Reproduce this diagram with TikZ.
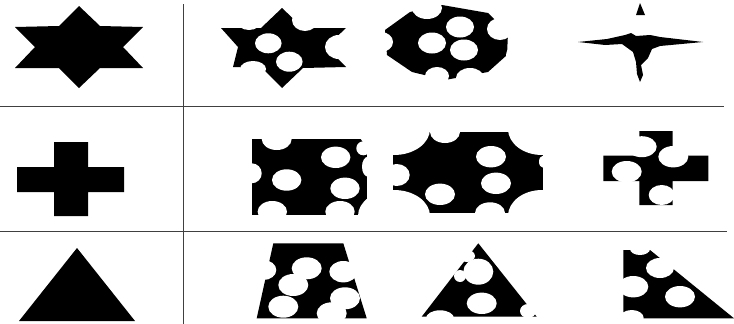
\documentclass[tikz,border=0pt]{standalone}
\begin{document}
\begin{tikzpicture}[x=1pt,y=-1pt,
  shapefill/.style={fill=black,draw=none},
  hole/.style={fill=white,draw=none},
  gridline/.style={draw=black!75,line width=0.9pt}]
\useasboundingbox (0,0) rectangle (734,324);
% grid lines
\coordinate (h1a) at (0,106); \coordinate (h1b) at (724,106);
\coordinate (h2a) at (0,231); \coordinate (h2b) at (727,231);
\coordinate (v1a) at (183,4); \coordinate (v1b) at (183,324);
% ---------- left column ----------
\fill[shapefill] (79,6) -- (100,26) -- (143,27) -- (123,47) -- (143,68) -- (100,68) -- (79,88) -- (59,68) -- (15,68) -- (35,47) -- (15,27) -- (59,26) -- cycle;
\fill[shapefill] (54,142) -- (88,142) -- (88,167) -- (124,167) -- (124,192) -- (88,192) -- (88,216) -- (54,216) -- (54,192) -- (17,192) -- (17,167) -- (54,167) -- cycle;
\fill[shapefill] (77,248) -- (135,321) -- (19,321) -- cycle;
% ---------- row 1 ----------
% r1c1
\fill[shapefill] (282,8) -- (303,28) -- (346,28) -- (326,47) -- (346,67) -- (303,68) -- (282,88) -- (262,68) -- (233,67) -- (238,47) -- (221,28) -- (261,28) -- cycle;
\fill[hole] (249,20) ellipse (13 and 10);
\fill[hole] (305,20) ellipse (13 and 11);
\fill[hole] (339,47) ellipse (14 and 12);
\fill[hole] (253,69) ellipse (13 and 8);
\fill[hole] (268.3,43.3) ellipse (13.3 and 10);
\fill[hole] (289.3,61.7) ellipse (13.3 and 10);
% r1c2
\fill[shapefill] (410,12) -- (442,5) -- (488,13) -- (508,33) -- (507,55) -- (488,72) -- (445,80) -- (412,72) -- (387,55) -- (385,30) -- cycle;
\fill[hole] (427,8) ellipse (15 and 11);
\fill[hole] (500,29) ellipse (13 and 11);
\fill[hole] (381,42) ellipse (12 and 10);
\fill[hole] (437,76) ellipse (12 and 9);
\fill[hole] (470,78) ellipse (14 and 10);
\fill[hole] (514,55) ellipse (8 and 8);
\fill[hole] (460,27) ellipse (14 and 10.5);
\fill[hole] (432,43) ellipse (14 and 10.5);
\fill[hole] (464,50) ellipse (14 and 10.5);
% r1c3
\fill[shapefill] (636,15) -- (645,15) -- (640,3) -- cycle;
\fill[shapefill] (578,42) -- (607,39) -- (625,35) -- (631,33) -- (636,36) -- (650,35) -- (660,37) -- (703,42) -- (660,46) -- (652,49) -- (648,58) -- (641,65) -- (643,75) -- (640,82) -- (637,74) -- (636,62) -- (633,52) -- (622,44) -- (605,45) -- cycle;
% ---------- row 2 ----------
% r2c1
\fill[shapefill] (252,139) rectangle (367,215);
\fill[hole] (276.7,139) ellipse (15 and 11);
\fill[hole] (251.7,173.3) ellipse (10 and 10);
\fill[hole] (363.3,148.3) ellipse (7 and 7);
\fill[hole] (368,166.7) ellipse (6 and 10);
\fill[hole] (335.7,157.3) ellipse (14.7 and 10.7);
\fill[hole] (286.7,180) ellipse (14.7 and 10.7);
\fill[hole] (345,188.3) ellipse (14.7 and 10.7);
\fill[hole] (272.3,211.7) ellipse (14.7 and 10.7);
\fill[hole] (340,211.7) ellipse (14.7 and 10.7);
% r2c2
\fill[shapefill] (393,132) rectangle (543,213);
\fill[hole] (394,129) ellipse (36 and 26);
\fill[hole] (542,129) ellipse (34 and 26);
\fill[hole] (394,216) ellipse (36 and 26);
\fill[hole] (542,216) ellipse (34 and 26);
\fill[hole] (445,132) ellipse (15 and 11);
\fill[hole] (396.7,175) ellipse (13 and 11);
\fill[hole] (543,161.7) ellipse (4 and 6);
\fill[hole] (491,156.7) ellipse (15 and 10.7);
\fill[hole] (496,183.3) ellipse (15 and 10.7);
\fill[hole] (440,194.3) ellipse (15 and 10.7);
\fill[hole] (490,213) ellipse (15 and 10.7);
% r2c3
\fill[shapefill] (639.3,131) -- (672.7,131) -- (672.7,155.7) -- (708.3,155.7) -- (708.3,181) -- (672.7,181) -- (672.7,205) -- (639.3,205) -- (639.3,181) -- (603.3,181) -- (603.3,155.7) -- (639.3,155.7) -- cycle;
\fill[hole] (641.7,146.7) ellipse (15 and 10.5);
\fill[hole] (673.3,156.7) ellipse (15 and 10.7);
\fill[hole] (626.7,171.7) ellipse (15 and 10.7);
\fill[hole] (661.7,195) ellipse (13 and 10);
% ---------- row 3 ----------
% r3c1
\fill[shapefill] (273.3,243.3) -- (343.3,243.3) -- (366.7,318.3) -- (256.7,318.3) -- cycle;
\fill[hole] (263.3,270) ellipse (13 and 10);
\fill[hole] (343.3,271.7) ellipse (14 and 10.7);
\fill[hole] (306.7,268.3) ellipse (15 and 11);
\fill[hole] (293.3,285) ellipse (15 and 11);
\fill[hole] (283.3,306.7) ellipse (15 and 11);
\fill[hole] (345,298.3) ellipse (15 and 11);
\fill[hole] (331.7,313.3) ellipse (15 and 11);
% r3c2
\fill[shapefill] (478.3,243.3) -- (536.7,316.7) -- (421.7,316.7) -- cycle;
\fill[hole] (478.3,271.7) ellipse (15 and 13);
\fill[hole] (467,256) ellipse (8 and 6);
\fill[hole] (460,276) ellipse (6 and 6);
\fill[hole] (481.7,303.3) ellipse (15 and 10.7);
\fill[hole] (440,318.3) ellipse (14 and 8);
\fill[hole] (528,311) ellipse (8 and 7);
% r3c3
\fill[shapefill] (623.3,250) -- (650,250) -- (734,318.3) -- (623.3,318.3) -- cycle;
\fill[hole] (640,249) ellipse (10 and 6);
\fill[hole] (660,268) ellipse (14 and 10);
\fill[hole] (633.3,286.7) ellipse (15 and 10.7);
\fill[hole] (680,296.7) ellipse (15 and 10.7);
\fill[hole] (631.7,318) ellipse (12 and 8);
% grid lines on top
\draw[gridline] (h1a) -- (h1b);
\draw[gridline] (h2a) -- (h2b);
\draw[gridline] (v1a) -- (v1b);
\end{tikzpicture}
\end{document}
